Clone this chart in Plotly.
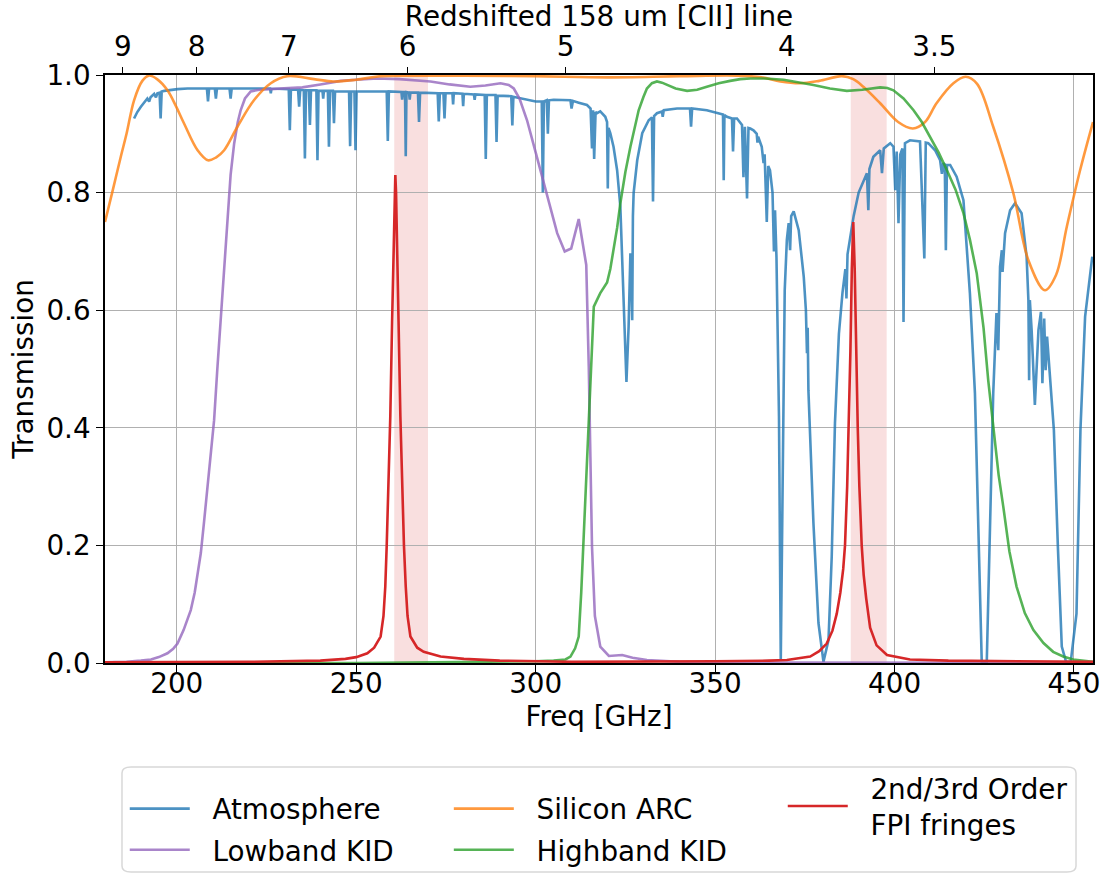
import plotly.graph_objects as go

# ---------------- data ----------------
atm_freq = [
    188.1, 189.0, 190.0, 191.0, 191.8, 192.3, 192.7, 193.7, 194.2, 194.6, 195.2, 195.5, 195.8, 196.5,
    198.5, 200.2, 203.0, 206.0, 208.4, 208.7, 209.0, 210.6, 210.9, 211.2, 214.7, 215.0, 215.3, 220.0,
    226.0, 226.2, 226.4, 231.2, 231.5, 231.8, 233.8, 234.1, 234.4, 235.4, 235.7, 236.0, 236.8, 237.1,
    237.4, 238.9, 239.2, 239.5, 240.6, 240.8, 241.0, 242.1, 242.4, 242.7, 243.5, 243.8, 244.1, 248.0,
    248.3, 248.6, 249.5, 249.8, 250.1, 258.5, 258.8, 259.1, 262.6, 262.8, 263.0, 263.6, 263.8, 264.0,
    264.7, 264.9, 265.1, 267.2, 267.5, 267.8, 272.7, 273.0, 273.3, 274.3, 274.6, 274.9, 276.8, 277.0,
    277.2, 279.6, 279.8, 280.0, 282.8, 283.0, 283.2, 285.8, 286.1, 286.4, 288.8, 289.1, 289.4, 293.2,
    293.5, 293.8, 296.0, 298.0, 300.0, 301.7, 302.0, 302.3, 303.1, 303.4, 303.7, 305.0, 309.7, 310.0,
    310.4, 312.0, 314.3, 315.3, 315.7, 316.0, 316.3, 316.7, 317.1, 318.0, 319.4, 319.9, 320.1, 320.3,
    320.8, 321.7, 322.7, 323.6, 324.5, 325.3, 325.9, 326.4, 326.7, 326.9, 327.1, 327.3, 328.3, 329.7,
    331.5, 332.4, 332.7, 333.0, 333.8, 335.2, 335.4, 335.7, 339.4, 343.0, 343.3, 343.6, 347.7, 351.4,
    352.2, 352.4, 352.6, 353.3, 354.7, 355.0, 355.3, 356.1, 357.5, 357.9, 358.3, 358.9, 359.3, 359.8,
    360.7, 361.6, 361.8, 362.0, 363.0, 363.5, 363.8, 364.4, 364.8, 365.3, 366.0, 366.4, 366.7, 367.1,
    367.5, 367.8, 368.3, 368.9, 369.4, 370.0, 370.5, 370.9, 371.2, 371.9, 373.3, 374.7, 375.3, 375.6,
    375.8, 376.0, 377.4, 378.8, 380.2, 381.6, 382.5, 383.4, 384.5, 385.5, 386.3, 386.6, 386.9, 388.6,
    390.0, 392.3, 392.7, 393.0, 394.1, 396.0, 396.5, 397.0, 398.8, 399.7, 400.2, 400.6, 401.1, 401.6,
    402.2, 402.5, 402.9, 404.3, 407.1, 408.3, 408.7, 409.4, 411.3, 412.7, 413.2, 413.6, 414.0, 414.3,
    414.6, 415.5, 417.3, 419.2, 421.0, 422.4, 423.3, 424.3, 425.7, 426.6, 427.5, 428.4, 428.9, 429.4,
    429.9, 430.1, 430.8, 432.2, 433.6, 435.4, 436.8, 437.3, 437.5, 437.7, 438.2, 439.1, 440.1, 440.8,
    441.2, 441.7, 442.1, 442.5, 443.3, 444.4, 445.5, 446.6, 447.8, 449.1, 450.7, 451.8, 453.1, 454.2,
    455.1,
]
atm_trans = [
    0.926, 0.937, 0.946, 0.954, 0.960, 0.955, 0.962, 0.968, 0.962, 0.969, 0.970, 0.926, 0.972, 0.973,
    0.975, 0.976, 0.977, 0.977, 0.977, 0.955, 0.977, 0.977, 0.960, 0.977, 0.977, 0.960, 0.977, 0.977,
    0.977, 0.969, 0.977, 0.976, 0.906, 0.975, 0.975, 0.946, 0.975, 0.974, 0.858, 0.974, 0.974, 0.915,
    0.974, 0.974, 0.855, 0.973, 0.973, 0.960, 0.973, 0.973, 0.878, 0.973, 0.973, 0.918, 0.972, 0.972,
    0.879, 0.972, 0.972, 0.872, 0.972, 0.972, 0.888, 0.972, 0.971, 0.958, 0.971, 0.971, 0.862, 0.971,
    0.970, 0.958, 0.970, 0.970, 0.920, 0.970, 0.969, 0.921, 0.969, 0.969, 0.926, 0.969, 0.969, 0.950,
    0.969, 0.968, 0.947, 0.968, 0.967, 0.958, 0.967, 0.966, 0.857, 0.966, 0.966, 0.886, 0.965, 0.964,
    0.914, 0.963, 0.960, 0.957, 0.955, 0.955, 0.800, 0.955, 0.957, 0.900, 0.957, 0.958, 0.957, 0.943,
    0.956, 0.953, 0.949, 0.943, 0.875, 0.940, 0.857, 0.937, 0.935, 0.938, 0.929, 0.920, 0.807, 0.910,
    0.901, 0.878, 0.838, 0.776, 0.629, 0.478, 0.572, 0.697, 0.650, 0.583, 0.760, 0.799, 0.855, 0.901,
    0.923, 0.928, 0.785, 0.930, 0.935, 0.938, 0.929, 0.940, 0.943, 0.943, 0.912, 0.943, 0.940, 0.935,
    0.933, 0.821, 0.932, 0.929, 0.926, 0.870, 0.926, 0.926, 0.915, 0.826, 0.912, 0.790, 0.910, 0.909,
    0.906, 0.900, 0.885, 0.895, 0.878, 0.850, 0.865, 0.750, 0.845, 0.838, 0.800, 0.700, 0.770, 0.690,
    0.570, 0.420, 0.005, 0.420, 0.634, 0.720, 0.748, 0.702, 0.760, 0.768, 0.736, 0.657, 0.600, 0.527,
    0.570, 0.464, 0.238, 0.068, 0.002, 0.039, 0.181, 0.408, 0.560, 0.630, 0.670, 0.620, 0.695, 0.760,
    0.800, 0.833, 0.770, 0.840, 0.861, 0.872, 0.833, 0.875, 0.884, 0.878, 0.804, 0.870, 0.748, 0.865,
    0.875, 0.580, 0.884, 0.889, 0.887, 0.688, 0.885, 0.884, 0.872, 0.855, 0.832, 0.850, 0.848, 0.702,
    0.847, 0.847, 0.827, 0.787, 0.629, 0.459, 0.243, 0.002, 0.002, 0.243, 0.459, 0.595, 0.532, 0.674,
    0.702, 0.665, 0.731, 0.770, 0.782, 0.765, 0.691, 0.617, 0.481, 0.617, 0.566, 0.439, 0.566, 0.597,
    0.476, 0.586, 0.498, 0.555, 0.487, 0.396, 0.200, 0.028, 0.002, 0.002, 0.084, 0.396, 0.589, 0.646,
    0.691,
]

arc_freq = [
    180.0, 182.0, 184.4, 186.0, 188.1, 190.4, 192.2, 194.5, 197.4, 199.7, 202.0, 205.8, 208.7, 211.0,
    213.2, 216.9, 221.5, 226.2, 230.8, 238.2, 243.7, 250.0, 256.8, 265.0, 280.0, 300.0, 320.0, 340.0,
    356.0, 363.0, 368.2, 373.7, 379.0, 385.3, 388.5, 391.3, 396.0, 401.0, 405.1, 408.5, 411.7, 416.4,
    419.8, 423.0, 427.5, 433.1, 437.3, 441.9, 445.0, 448.0, 451.7, 455.3,
]
arc_trans = [
    0.750, 0.800, 0.861, 0.900, 0.957, 0.990, 0.999, 0.993, 0.974, 0.948, 0.918, 0.872, 0.855, 0.860,
    0.872, 0.912, 0.957, 0.986, 0.998, 0.993, 0.989, 0.992, 0.998, 0.999, 0.999, 0.998, 0.996, 0.998,
    0.999, 0.996, 0.989, 0.986, 0.990, 0.998, 0.993, 0.980, 0.952, 0.920, 0.909, 0.920, 0.952, 0.986,
    0.997, 0.985, 0.912, 0.799, 0.685, 0.634, 0.660, 0.742, 0.838, 0.920,
]

low_freq = [
    180.0, 186.0, 190.0, 192.8, 195.0, 197.4, 199.0, 200.2, 201.9, 203.9, 205.0, 205.9, 206.7, 207.6,
    208.5, 209.5, 210.4, 211.3, 212.2, 213.1, 214.1, 215.0, 216.0, 217.0, 217.8, 219.0, 220.6, 223.0,
    226.0, 230.8, 235.0, 240.0, 245.7, 250.0, 255.9, 262.0, 270.7, 276.0, 281.8, 286.0, 290.2, 292.5,
    293.9, 295.5, 297.6, 299.5, 301.3, 303.6, 306.0, 308.1, 309.9, 312.0, 314.1, 314.8, 315.7, 316.5,
    318.0, 320.4, 324.1, 327.0, 331.0, 340.0, 360.0, 455.0,
]
low_trans = [
    0.001, 0.002, 0.004, 0.006, 0.010, 0.0165, 0.024, 0.033, 0.056, 0.090, 0.120, 0.155, 0.187, 0.240,
    0.300, 0.355, 0.413, 0.500, 0.583, 0.665, 0.753, 0.830, 0.884, 0.920, 0.940, 0.960, 0.972, 0.975,
    0.976, 0.977, 0.979, 0.984, 0.990, 0.992, 0.994, 0.993, 0.989, 0.984, 0.980, 0.982, 0.986, 0.983,
    0.977, 0.960, 0.923, 0.880, 0.838, 0.787, 0.731, 0.700, 0.705, 0.755, 0.677, 0.504, 0.198, 0.080,
    0.028, 0.012, 0.0136, 0.009, 0.005, 0.002, 0.001, 0.000,
]

high_freq = [
    180.0, 250.0, 300.0, 305.0, 308.3, 309.7, 311.0, 312.0, 312.7, 313.4, 314.1, 314.8, 315.5, 316.2,
    318.0, 319.9, 320.8, 321.7, 322.7, 323.6, 325.0, 326.4, 327.5, 328.7, 330.0, 331.0, 332.4, 333.8,
    335.2, 336.6, 339.0, 342.2, 345.0, 347.7, 351.0, 354.2, 357.0, 359.8, 364.0, 369.1, 373.0, 377.4,
    382.0, 386.7, 391.0, 396.0, 398.0, 399.7, 402.5, 405.3, 407.6, 409.9, 412.3, 414.6, 417.0, 419.2,
    421.0, 422.9, 424.8, 426.1, 427.5, 429.0, 430.3, 432.0, 434.0, 436.3, 438.7, 441.5, 444.2, 447.0,
    449.8, 455.3,
]
high_trans = [
    0.000, 0.000, 0.003, 0.004, 0.006, 0.011, 0.025, 0.045, 0.120, 0.220, 0.320, 0.419, 0.520, 0.606,
    0.629, 0.647, 0.670, 0.702, 0.740, 0.782, 0.835, 0.878, 0.910, 0.940, 0.962, 0.977, 0.986, 0.989,
    0.987, 0.983, 0.977, 0.973, 0.975, 0.980, 0.986, 0.990, 0.993, 0.994, 0.994, 0.992, 0.988, 0.983,
    0.977, 0.973, 0.975, 0.979, 0.978, 0.974, 0.960, 0.940, 0.920, 0.895, 0.868, 0.838, 0.805, 0.765,
    0.720, 0.663, 0.570, 0.481, 0.399, 0.320, 0.266, 0.190, 0.130, 0.085, 0.056, 0.034, 0.019, 0.011,
    0.006, 0.002,
]

fpi_freq = [
    180.0, 220.0, 240.0, 247.0, 250.0, 253.1, 255.0, 256.8, 257.6, 258.1, 258.5, 259.0, 259.5, 260.0,
    260.4, 260.7, 260.9, 261.1, 261.4, 261.8, 262.3, 262.8, 263.3, 263.8, 264.3, 265.1, 267.0, 268.8,
    273.5, 280.0, 290.0, 310.0, 330.0, 350.0, 365.0, 370.0, 376.5, 379.0, 381.1, 382.7, 383.9, 384.9,
    385.7, 386.2, 386.8, 387.25, 387.7, 388.1, 388.5, 388.9, 389.3, 389.75, 390.2, 390.85, 391.4, 392.1,
    393.2, 395.0, 397.9, 404.3, 415.0, 430.0, 445.0, 455.3,
]
fpi_trans = [
    0.001, 0.002, 0.004, 0.007, 0.010, 0.0165, 0.026, 0.045, 0.080, 0.130, 0.200, 0.300, 0.420, 0.580,
    0.720, 0.800, 0.830, 0.800, 0.720, 0.580, 0.420, 0.300, 0.200, 0.130, 0.080, 0.045, 0.026, 0.019,
    0.011, 0.007, 0.004, 0.002, 0.002, 0.003, 0.004, 0.005, 0.011, 0.020, 0.033, 0.055, 0.084, 0.120,
    0.160, 0.200, 0.300, 0.400, 0.530, 0.670, 0.750, 0.670, 0.530, 0.400, 0.300, 0.200, 0.150, 0.110,
    0.060, 0.030, 0.0136, 0.006, 0.004, 0.003, 0.002, 0.002,
]

# FPI passbands (shaded) in GHz
bands = [(260.6, 270.0), (387.8, 397.8)]

# secondary axis: redshift of the 158 um [CII] line
cii_rest_ghz = 1850.0
z_ticks = [9, 8, 7, 6, 5, 4, 3.5]
z_labels = ["9", "8", "7", "6", "5", "4", "3.5"]

freq_ticks = [200, 250, 300, 350, 400, 450]
x_range = [180.0, 455.3]

# ---------------- figure ----------------
FONT = "DejaVu Sans"
FS = 27.8
LW = 2.6
PAD = "\u00a0\u00a0"  # gap between legend handle and label

fig = go.Figure()

for lo, hi in bands:
    fig.add_vrect(x0=lo, x1=hi, fillcolor="rgba(214,39,40,0.15)", line_width=0, layer="below")

series = [
    ("Atmosphere", atm_freq, atm_trans, "rgba(31,119,180,0.8)", "legend", "linear"),
    ("Lowband KID", low_freq, low_trans, "rgba(148,103,189,0.8)", "legend", "linear"),
    ("Silicon ARC", arc_freq, arc_trans, "rgba(255,127,14,0.8)", "legend2", "spline"),
    ("Highband KID", high_freq, high_trans, "rgba(44,160,44,0.8)", "legend2", "linear"),
    ("2nd/3rd Order<br>FPI fringes", fpi_freq, fpi_trans, "rgba(214,39,40,1.0)", "legend3", "linear"),
]
for name, xs, ys, col, leg, shape in series:
    fig.add_trace(go.Scatter(
        x=xs, y=ys, mode="lines", name=PAD + name.replace("<br>", "<br>" + PAD),
        legend=leg, legendgroup=name,
        line=dict(color=col, width=LW, shape=shape),
        hoverinfo="skip",
    ))

# carrier trace so the redshift axis along the top is drawn
fig.add_trace(go.Scatter(
    x=x_range, y=[None, None], xaxis="x2", yaxis="y", mode="lines",
    showlegend=False, hoverinfo="skip",
))

# legend frame spanning the three legend columns
fig.add_shape(
    type="path", xref="paper", yref="paper",
    path="M 0.0263,-0.1769 L 0.9737,-0.1769 Q 0.9828,-0.1769 0.9828,-0.1871 "
         "L 0.9828,-0.3452 Q 0.9828,-0.3554 0.9737,-0.3554 L 0.0263,-0.3554 "
         "Q 0.0172,-0.3554 0.0172,-0.3452 L 0.0172,-0.1871 Q 0.0172,-0.1769 0.0263,-0.1769 Z",
    line=dict(color="#d8d8d8", width=1.5), fillcolor="rgba(255,255,255,0.8)", layer="below",
)

axis_common = dict(
    showline=True, linecolor="black", linewidth=1.6, mirror=True,
    ticks="outside", ticklen=7, tickwidth=1.4, tickcolor="black",
    showgrid=True, gridcolor="#b0b0b0", gridwidth=1.2, zeroline=False,
    tickfont=dict(family=FONT, size=FS, color="black"),
    automargin=False,
)

legend_common = dict(
    xanchor="left", yanchor="top", orientation="v", itemwidth=60,
    bgcolor="rgba(0,0,0,0)", font=dict(family=FONT, size=FS, color="black"),
    traceorder="grouped", tracegroupgap=2, valign="middle",
)

fig.update_layout(
    width=1108, height=875,
    margin=dict(l=105, r=15, t=75, b=212, autoexpand=False),
    paper_bgcolor="white", plot_bgcolor="white",
    font=dict(family=FONT, size=FS, color="black"),
    xaxis=dict(
        range=x_range, tickvals=freq_ticks, ticklabelstandoff=-12, **axis_common,
        title=dict(text="Freq [GHz]", font=dict(family=FONT, size=FS), standoff=7),
    ),
    yaxis=dict(
        range=[0, 1], tickvals=[0, 0.2, 0.4, 0.6, 0.8, 1.0], tickformat=".1f", **axis_common,
        title=dict(text="Transmission", font=dict(family=FONT, size=FS), standoff=5),
    ),
    xaxis2=dict(
        overlaying="x", side="top", anchor="y", range=x_range,
        tickmode="array", tickvals=[cii_rest_ghz / (1 + z) for z in z_ticks], ticktext=z_labels,
        ticks="outside", ticklen=7, tickwidth=1.4, tickcolor="black",
        showgrid=False, zeroline=False, showline=False,
        tickfont=dict(family=FONT, size=FS, color="black"),
        title=dict(text="Redshifted 158 um [CII] line", font=dict(family=FONT, size=FS), standoff=4),
        automargin=False,
    ),
    showlegend=True,
    legend=dict(x=0.02, y=-0.2058, **legend_common),
    legend2=dict(x=0.348, y=-0.2058, **legend_common),
    legend3=dict(x=0.686, y=-0.1707, **legend_common),
)

fig.write_html("out.html")
